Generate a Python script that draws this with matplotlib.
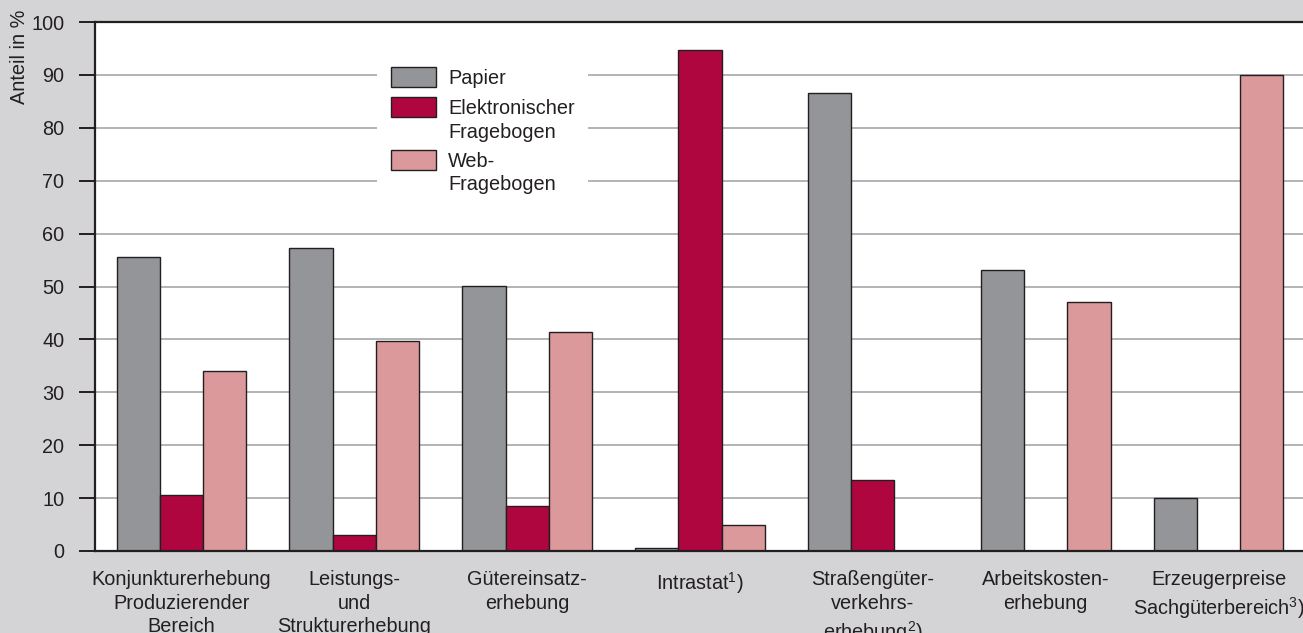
#!/usr/bin/env python3
# -*- coding: utf-8 -*-

import numpy as np
import matplotlib
matplotlib.use("Agg")
import matplotlib.pyplot as plt
from matplotlib.patches import Rectangle

# ---------- DATA ----------
categories = [
    "Konjunkturerhebung\nProduzierender\nBereich",
    "Leistungs-\nund\nStrukturerhebung",
    "Gütereinsatz-\nerhebung",
    "Intrastat$^{1}$)",
    "Straßengüter-\nverkehrs-\nerhebung$^{2}$)",
    "Arbeitskosten-\nerhebung",
    "Erzeugerpreise\nSachgüterbereich$^{3}$)",
]
series_names = ["Papier", "Elektronischer\nFragebogen", "Web-\nFragebogen"]
papier       = [55.6, 57.3, 50.1, 0.6, 86.6, 53.1, 10.0]
elektronisch = [10.5, 3.0, 8.5, 94.7, 13.4, 0.0, 0.0]
web          = [34.0, 39.7, 41.4, 4.9, 0.0, 47.1, 90.0]
yticks = [0, 10, 20, 30, 40, 50, 60, 70, 80, 90, 100]

# ---------- THEME ----------
BG     = "#D4D4D6"
C_PAP  = "#939598"
C_ELEK = "#B0063F"
C_WEB  = "#DB999C"
EDGE   = "#231F20"
GRID   = "#A7A7A9"
TEXT   = "#231F20"
FS     = 14.3
LSP    = 1.3

plt.rcParams.update({
    "font.family": ["Liberation Sans", "DejaVu Sans"],
    "font.size": FS,
    "mathtext.fontset": "custom",
    "mathtext.rm": "Liberation Sans",
    "mathtext.it": "Liberation Sans",
    "text.color": TEXT,
})

W, H = 1303, 633
fig = plt.figure(figsize=(W / 100, H / 100), dpi=100, facecolor=BG)
ax = fig.add_axes([95 / W, 1 - 551 / H, 1210 / W, 529 / H])
ax.set_facecolor("white")

x = np.arange(len(categories))
w = 0.25
colors = (C_PAP, C_ELEK, C_WEB)
for off, vals, col in zip((-w, 0, w), (papier, elektronisch, web), colors):
    ax.bar(x + off, vals, width=w, color=col, edgecolor=EDGE, linewidth=1.0, zorder=3)

ax.set_xlim(-0.5, len(categories) - 0.5)
ax.set_ylim(0, 100)
ax.set_yticks(yticks)
ax.set_xticks(x, categories)
ax.yaxis.grid(True, color=GRID, linewidth=1.2, zorder=0)
ax.set_axisbelow(True)

for s in ("left", "top", "bottom"):
    ax.spines[s].set_color(EDGE)
    ax.spines[s].set_linewidth(1.6)
    ax.spines[s].set_zorder(4)
ax.spines["right"].set_visible(False)

ax.tick_params(axis="y", length=11.5, width=1.4, color=EDGE, pad=10.5,
               labelsize=FS, labelcolor=TEXT)
ax.tick_params(axis="x", length=0, pad=14, labelsize=FS, labelcolor=TEXT)
for t in ax.get_xticklabels():
    t.set_linespacing(LSP)
    t.set_verticalalignment("top")

fig.text(20 / W, 1 - 57 / H, "Anteil in %", rotation=90,
         ha="center", va="center", fontsize=FS, color=TEXT)

# ---------- LEGEND (hand placed white box, above grid, below bars) ----------
def fx(px): return px / W
def fy(py): return 1 - py / H

fig.patches.append(Rectangle((fx(377), fy(200)), fx(588) - fx(377), fy(58) - fy(200),
                             transform=fig.transFigure, facecolor="white",
                             edgecolor="none", zorder=1.5))
# handle top y, text first-line centre y
rows = [(67, 77), (97, 107), (150, 160)]
for (top, ty), col, name in zip(rows, colors, series_names):
    fig.patches.append(Rectangle((fx(391), fy(top + 20)), fx(436) - fx(391), fy(top) - fy(top + 20),
                                 transform=fig.transFigure, facecolor=col,
                                 edgecolor=EDGE, linewidth=1.0, zorder=2))
    fig.text(fx(448), fy(ty - 8), name, ha="left", va="top", fontsize=FS,
             color=TEXT, linespacing=LSP, zorder=2)

fig.savefig("out.png", dpi=100, facecolor=BG)
